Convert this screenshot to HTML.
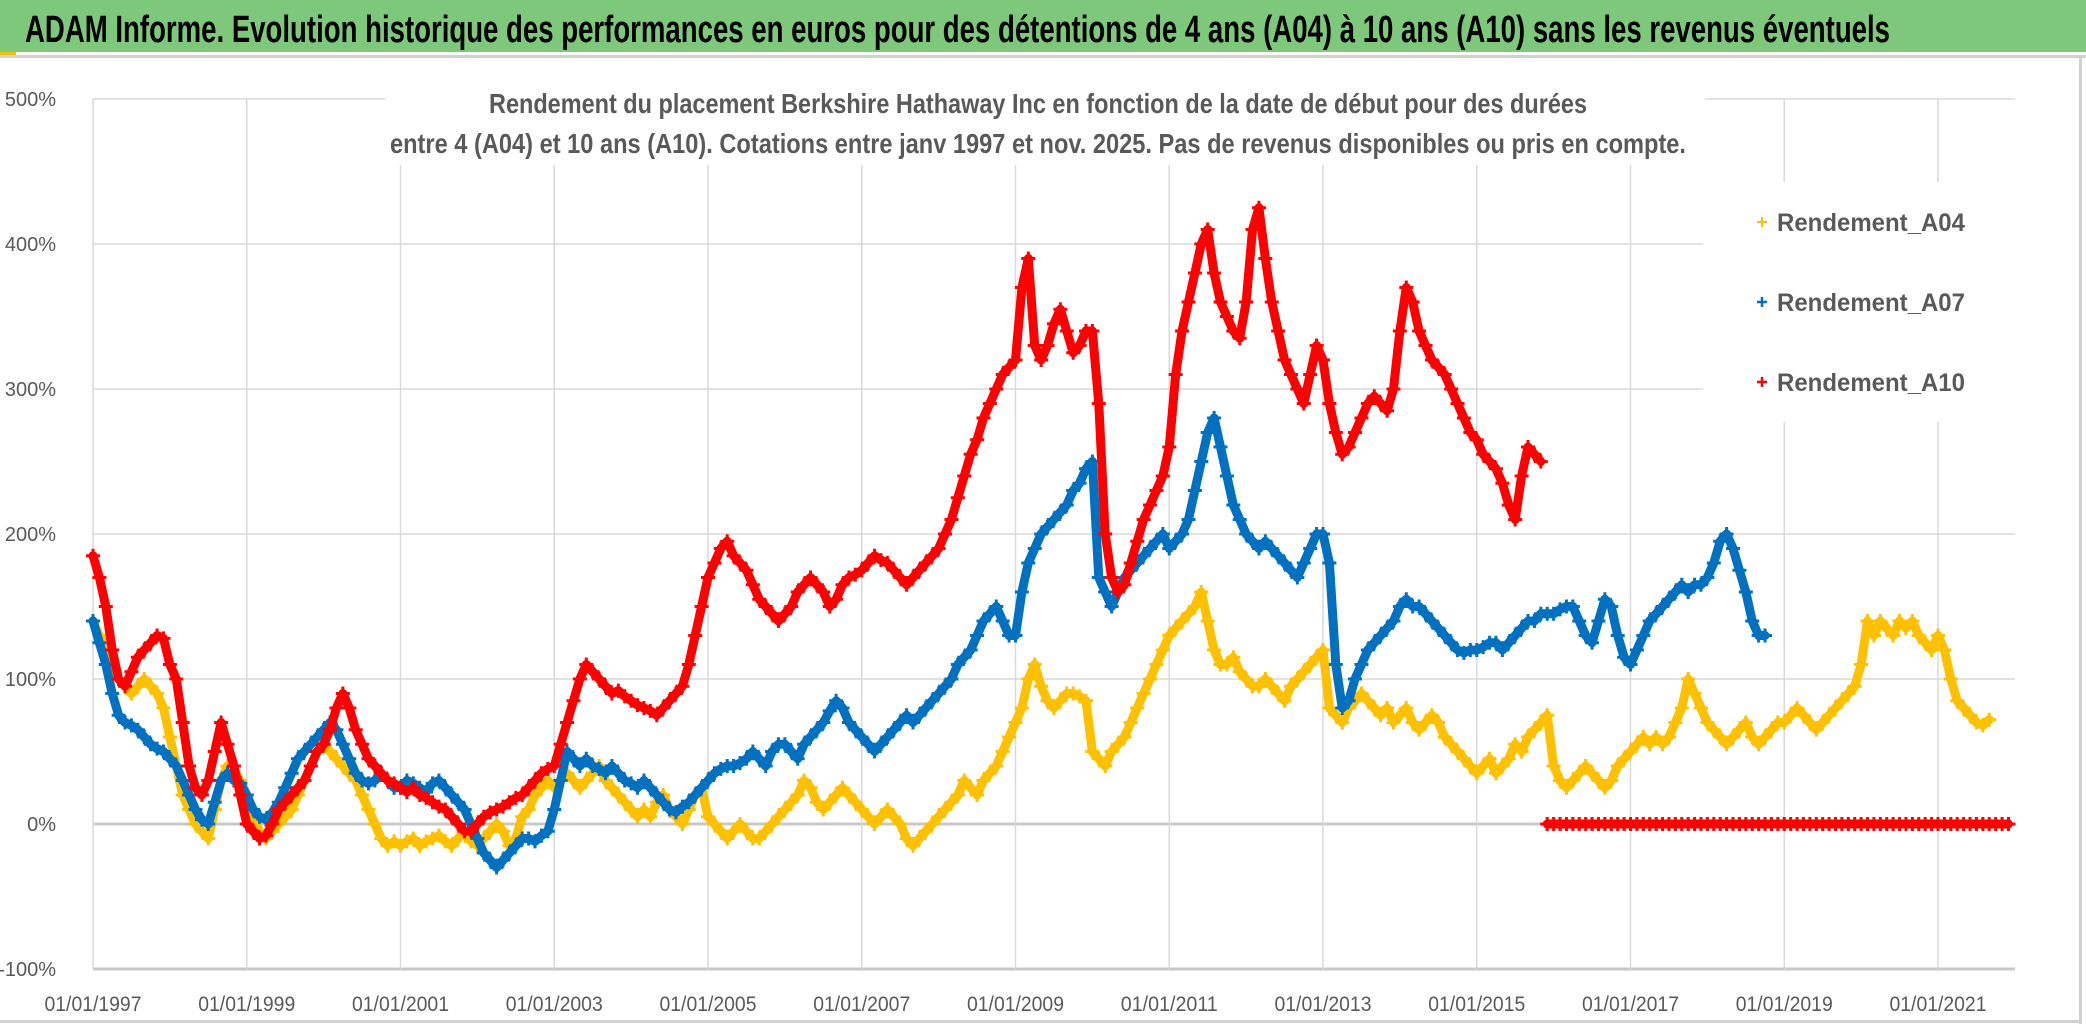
<!DOCTYPE html>
<html><head><meta charset="utf-8"><style>
html,body{margin:0;padding:0;background:#fff;}
svg{display:block;font-family:"Liberation Sans Narrow","Liberation Sans",sans-serif;}
</style></head><body>
<svg id="c" width="2086" height="1032" viewBox="0 0 2086 1032">
<rect x="0" y="0" width="2086" height="1032" fill="#fff"/>
<rect x="0" y="0" width="2086" height="52" fill="#7ec87c"/>
<rect x="0" y="55" width="2086" height="3" fill="#d0d0d0"/>
<rect x="0" y="52" width="16" height="3" fill="#f2c100"/>
<text x="25" y="42" font-size="38" font-weight="bold" fill="#000" textLength="1865" lengthAdjust="spacingAndGlyphs">ADAM Informe. Evolution historique des performances en euros pour des détentions de 4 ans (A04) à 10 ans (A10) sans les revenus éventuels</text>
<rect x="2079" y="58" width="3" height="966" fill="#d0d0d0"/>
<rect x="0" y="1020" width="2082" height="3" fill="#d0d0d0"/>
<g id="grid"></g>
<rect x="385" y="60" width="1320" height="105" fill="#fff"/>
<rect x="1703" y="182" width="312" height="240" fill="#fff"/>
<text x="1038" y="113" font-size="28" font-weight="bold" fill="#595959" text-anchor="middle" textLength="1098" lengthAdjust="spacingAndGlyphs">Rendement du placement Berkshire Hathaway Inc en fonction de la date de début pour des durées</text>
<text x="1038" y="153" font-size="28" font-weight="bold" fill="#595959" text-anchor="middle" textLength="1296" lengthAdjust="spacingAndGlyphs">entre 4 (A04) et 10 ans (A10). Cotations entre janv 1997 et nov. 2025. Pas de revenus disponibles ou pris en compte.</text>
<g id="axes"></g>
<g id="series"></g>
<g>
<g><path d="M1757 222h10M1762 217v10" stroke="#ffc000" stroke-width="2"/><text x="1777" y="231" font-size="25" font-weight="bold" fill="#595959" textLength="188" lengthAdjust="spacingAndGlyphs">Rendement_A04</text></g>
<g><path d="M1757 302h10M1762 297v10" stroke="#0070c0" stroke-width="2.5"/><text x="1777" y="311" font-size="25" font-weight="bold" fill="#595959" textLength="188" lengthAdjust="spacingAndGlyphs">Rendement_A07</text></g>
<g><path d="M1757 382h10M1762 377v10" stroke="#ff0000" stroke-width="2.5"/><text x="1777" y="391" font-size="25" font-weight="bold" fill="#595959" textLength="188" lengthAdjust="spacingAndGlyphs">Rendement_A10</text></g>
</g>
</svg>
<script>
const yTicks = [-100, 0, 100, 200, 300, 400, 500];
const yTickLabels = ["-100%", "0%", "100%", "200%", "300%", "400%", "500%"];
const xTickYears = [1997, 1999, 2001, 2003, 2005, 2007, 2009, 2011, 2013, 2015, 2017, 2019, 2021];
const xTickLabels = ["01/01/1997","01/01/1999","01/01/2001","01/01/2003","01/01/2005","01/01/2007","01/01/2009","01/01/2011","01/01/2013","01/01/2015","01/01/2017","01/01/2019","01/01/2021"];
const a04Start = 1997.0;
const a04Values = [
140,130,120,110,100,95,90,95,100,95,90,80,
60,40,20,10,0,-5,-10,10,30,40,35,30,
20,5,-5,-10,-5,0,5,10,20,30,40,50,
55,50,45,40,35,30,20,10,0,-10,-15,-12,
-15,-12,-10,-15,-12,-10,-8,-12,-15,-10,-5,-12,
-15,-10,-5,0,-5,-15,-10,5,10,20,25,30,
25,30,35,30,25,30,35,40,30,25,20,15,
10,5,10,5,15,20,10,5,0,10,20,25,
5,0,-5,-10,-5,0,-5,-10,-10,-5,0,5,
10,15,20,30,25,15,10,15,20,25,20,15,
10,5,0,5,10,5,0,-10,-15,-10,-5,0,
5,10,15,20,30,25,20,30,35,40,50,60,
70,80,100,110,95,85,80,85,90,90,88,85,
50,45,40,50,55,60,70,80,90,100,110,120,
130,135,140,145,150,160,140,120,110,110,115,105,
100,95,95,100,95,90,85,95,100,105,110,115,
120,80,75,70,80,85,90,85,80,75,80,70,
75,80,70,65,70,75,70,60,55,50,45,40,
35,40,45,35,40,45,55,50,60,65,70,75,
40,30,25,30,35,40,35,30,25,30,40,45,
50,55,60,55,60,55,60,70,80,100,90,80,
70,65,60,55,60,65,70,60,55,60,65,70,
70,75,80,75,70,65,70,75,80,85,90,95,
110,140,130,140,135,130,140,135,140,130,125,120,
130,120,100,85,80,75,70,68,72];
const a07Start = 1997.0;
const a07Values = [
140,125,110,90,75,70,68,65,60,55,52,50,
45,40,30,20,10,3,0,15,30,35,30,28,
20,10,5,3,8,15,25,35,45,50,55,60,
65,70,65,55,45,35,30,28,30,35,30,25,
25,30,28,25,22,28,30,25,20,15,10,0,
-10,-20,-25,-30,-25,-20,-15,-10,-10,-12,-8,-5,
10,30,50,45,40,45,40,38,35,40,35,30,
28,25,30,25,20,15,10,8,12,15,20,25,
30,35,38,40,40,42,45,50,45,40,50,55,
55,50,45,55,60,65,70,78,85,80,70,65,
60,55,50,55,60,65,70,75,70,75,80,85,
90,95,100,110,115,120,130,140,145,150,140,130,
130,160,180,190,200,205,210,215,220,230,235,245,
250,170,160,150,160,170,175,180,185,190,195,200,
190,195,200,210,230,250,270,280,260,240,220,210,
200,195,190,195,190,185,180,175,170,180,190,200,
200,180,110,80,85,100,110,120,125,130,135,140,
150,155,150,150,145,140,135,130,125,120,118,120,
120,122,125,125,120,125,130,135,140,140,145,145,
145,148,150,150,140,130,125,140,155,150,130,115,
110,120,130,140,145,150,155,160,165,160,165,165,
170,180,195,200,190,175,160,140,130,130];
const a10Start = 1997.0;
const a10Values = [
185,170,150,120,100,95,105,115,120,125,130,128,
110,100,70,40,25,20,30,50,70,55,40,20,
0,-5,-10,-8,0,10,15,20,25,30,40,50,
55,65,80,90,80,65,55,45,40,35,30,28,
25,22,25,20,18,15,12,10,5,0,-5,-5,
0,5,8,10,12,15,18,20,25,30,35,38,
40,55,70,85,100,110,105,100,95,90,92,88,
85,82,80,78,75,80,85,90,95,110,130,150,
170,180,190,195,185,180,175,165,155,150,145,140,
145,150,160,165,170,165,160,150,155,165,170,172,
175,180,185,182,180,175,170,165,170,175,180,185,
190,200,210,225,240,255,265,280,290,300,310,315,
320,370,390,330,320,330,345,355,340,325,330,340,
340,290,200,170,160,165,180,195,210,220,230,240,
260,310,340,360,380,400,410,380,360,350,340,335,
360,410,425,390,360,340,320,310,300,290,310,330,
320,290,270,255,260,270,280,290,295,290,285,300,
340,370,360,340,330,320,315,310,300,290,280,270,
265,255,250,245,235,220,210,240,260,255,250,0,
0,0,0,0,0,0,0,0,0,0,0,0,
0,0,0,0,0,0,0,0,0,0,0,0,
0,0,0,0,0,0,0,0,0,0,0,0,
0,0,0,0,0,0,0,0,0,0,0,0,
0,0,0,0,0,0,0,0,0,0,0,0,
0,0,0,0,0,0,0,0,0,0,0,0];

const NS = "http://www.w3.org/2000/svg";
const X0 = 93, PXY = 76.875, Y0 = 824, PXV = 1.45;
function xScale(year){ return X0 + (year - 1997) * PXY; }
function yScale(v){ return Y0 - v * PXV; }
function mk(tag, attrs, parent){ const e = document.createElementNS(NS, tag); for (const k in attrs) e.setAttribute(k, attrs[k]); parent.appendChild(e); return e; }

const grid = document.getElementById('grid');
const axes = document.getElementById('axes');
yTicks.forEach((t, i) => {
  const isBase = t === 0 || t === -100;
  const ln = mk('line', {x1: X0, x2: 2015, y1: yScale(t), y2: yScale(t), stroke: isBase ? '#c8c8c8' : '#d9d9d9', 'stroke-width': isBase ? 3 : 1.5}, grid);
  
  
  const tx = mk('text', {x: 56, y: yScale(t) + 7, 'font-size': 20, fill: '#595959', 'text-anchor': 'end'}, axes);
  tx.textContent = yTickLabels[i];
  
  
});
xTickYears.forEach((yr, i) => {
  const ln = mk('line', {x1: xScale(yr), x2: xScale(yr), y1: yScale(500), y2: yScale(-100), stroke: '#d9d9d9', 'stroke-width': 1.5}, grid);
  
  
  const tx = mk('text', {x: xScale(yr), y: 1011, 'font-size': 21, fill: '#595959', 'text-anchor': 'middle', textLength: 97, lengthAdjust: 'spacingAndGlyphs'}, axes);
  tx.textContent = xTickLabels[i];
  
  
});

const seriesG = document.getElementById('series');
function drawSeries(name, start, values, color){
  const g = mk('g', {}, seriesG);
  
  
  let seg = [];
  const segs = [];
  values.forEach((v, i) => {
    const p = [xScale(start + i / 12), yScale(v)];
    if (seg.length && Math.abs(values[i - 1] - v) > 150) { segs.push(seg); seg = []; }
    seg.push(p);
  });
  segs.push(seg);
  segs.forEach(s => {
    const pl = mk('polyline', {points: s.map(p => p.join(',')).join(' '), fill: 'none', stroke: color, 'stroke-width': 9, 'stroke-linejoin': 'round', 'stroke-linecap': 'round'}, g);
    
    
  });
  values.forEach((v, i) => {
    const x = xScale(start + i / 12), y = yScale(v);
    const m = mk('path', {d: `M${x-7} ${y}h14M${x} ${y-7}v14`, stroke: color, 'stroke-width': 3}, g);
    
    
  });
}
drawSeries('series-a04', a04Start, a04Values, '#ffc000');
drawSeries('series-a07', a07Start, a07Values, '#0070c0');
drawSeries('series-a10', a10Start, a10Values, '#ff0000');
</script>
</body></html>
